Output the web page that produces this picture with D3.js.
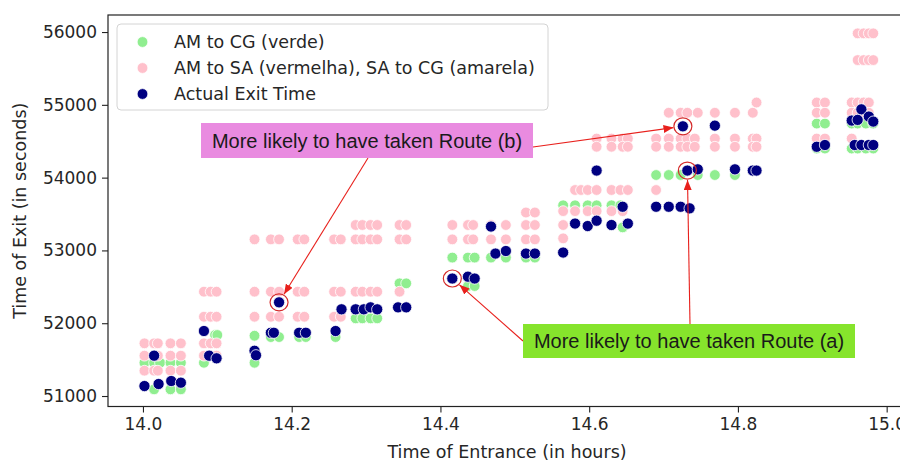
<!DOCTYPE html>
<html>
<head>
<meta charset="utf-8">
<title>Time of Exit vs Time of Entrance</title>
<script src="https://cdn.jsdelivr.net/npm/d3@7"></script>
<style>
  body{margin:0;background:#fff;}
  svg text{font-family:"DejaVu Sans",sans-serif;fill:#262626;}
  .note text{font-family:"Liberation Sans",Arial,sans-serif;fill:#1a1a1a;}
</style>
</head>
<body>
<svg id="chart" width="900" height="462"></svg>
<script>
// ticks
var xTicks = [14.0, 14.2, 14.4, 14.6, 14.8, 15.0];
var yTicks = [51000, 52000, 53000, 54000, 55000, 56000];

// [entrance (h), exit (s)]
var greenPts = [
  [14.002,51457],[14.015,51457],[14.023,51457],[14.037,51457],[14.051,51457],
  [14.015,51092],[14.037,51092],[14.051,51092],
  [14.082,51457],[14.097,51838],[14.100,51838],
  [14.150,51828],[14.150,51457],[14.172,51810],[14.183,51810],
  [14.210,51810],[14.219,51810],[14.259,51810],
  [14.286,52067],[14.295,52067],[14.306,52067],[14.315,52067],
  [14.345,52548],[14.354,52548],
  [14.416,52902],[14.437,52902],[14.446,52902],[14.468,52902],[14.488,52902],
  [14.437,52511],[14.446,52511],[14.515,52902],[14.527,52902],
  [14.565,53620],[14.581,53620],[14.598,53620],[14.610,53620],[14.630,53620],[14.642,53620],
  [14.645,53317],
  [14.690,54036],[14.707,54036],[14.723,54036],[14.746,54036],[14.769,54036],[14.796,54036],
  [14.906,54743],[14.917,54743],[14.953,54743],[14.961,54743],[14.972,54743],[14.982,54743],
  [14.906,54400],[14.917,54400],[14.953,54400],[14.961,54400],[14.972,54400],[14.982,54400]
];

var pinkPts = [
  [14.002,51724],[14.015,51724],[14.020,51724],[14.037,51724],[14.051,51724],
  [14.002,51554],[14.015,51554],[14.020,51554],[14.037,51554],[14.051,51554],
  [14.002,51348],[14.015,51348],[14.020,51348],[14.037,51348],[14.051,51348],
  [14.082,52433],[14.091,52433],[14.099,52433],
  [14.082,52089],[14.091,52089],[14.099,52089],
  [14.082,51724],[14.091,51724],[14.099,51724],
  [14.082,51554],[14.091,51554],[14.099,51554],
  [14.150,53152],[14.172,53152],[14.183,53152],[14.208,53152],[14.217,53152],[14.257,53152],[14.266,53152],
  [14.286,53152],[14.295,53152],[14.306,53152],[14.315,53152],[14.345,53152],[14.354,53152],
  [14.286,53349],[14.295,53349],[14.306,53349],[14.315,53349],[14.345,53349],[14.354,53349],
  [14.150,52433],[14.172,52433],[14.183,52433],[14.208,52433],[14.217,52433],[14.257,52433],[14.266,52433],
  [14.286,52433],[14.295,52433],[14.306,52433],[14.315,52433],[14.345,52433],
  [14.150,52089],[14.172,52089],[14.183,52089],[14.208,52089],[14.217,52089],[14.257,52089],[14.266,52089],
  [14.416,53349],[14.437,53349],[14.444,53349],[14.468,53349],[14.488,53349],[14.515,53349],[14.527,53349],[14.565,53349],
  [14.416,53152],[14.437,53152],[14.444,53152],[14.468,53152],[14.488,53152],[14.515,53152],[14.527,53152],[14.565,53166],
  [14.515,53521],[14.527,53521],
  [14.565,53540],[14.581,53540],[14.598,53540],[14.610,53540],[14.630,53540],[14.645,53540],
  [14.581,53830],[14.589,53830],[14.598,53830],[14.610,53830],[14.630,53830],[14.642,53830],[14.652,53830],[14.690,53830],
  [14.610,54537],[14.630,54537],[14.645,54537],[14.652,54537],[14.690,54537],[14.707,54537],[14.723,54537],
  [14.732,54537],[14.742,54537],[14.769,54537],[14.796,54537],[14.820,54537],[14.825,54537],
  [14.610,54424],[14.630,54424],[14.645,54424],[14.652,54424],[14.690,54424],[14.707,54424],[14.723,54424],
  [14.732,54424],[14.742,54424],[14.769,54424],[14.796,54424],[14.820,54424],[14.825,54424],
  [14.707,54891],[14.723,54891],[14.732,54891],[14.746,54891],[14.769,54891],[14.796,54891],[14.820,54891],
  [14.825,55032],
  [14.906,55032],[14.917,55032],[14.906,54891],[14.917,54891],[14.906,54537],[14.917,54537],
  [14.953,54537],
  [14.961,55982],[14.969,55982],[14.976,55982],[14.982,55982],
  [14.961,55615],[14.969,55615],[14.976,55615],[14.982,55615],
  [14.953,55032],[14.961,55032],[14.969,55032],[14.976,55032],
  [14.953,54891],[14.961,54891],[14.969,54891],[14.976,54891]
];

var actualPts = [
  [14.002,51137],[14.015,51554],[14.021,51165],[14.038,51206],[14.051,51183],
  [14.082,51893],[14.089,51554],[14.099,51518],
  [14.150,51622],[14.152,51560],[14.183,52287],[14.172,51869],[14.176,51869],
  [14.210,51869],[14.219,51869],[14.259,51893],
  [14.267,52191],[14.286,52191],[14.297,52191],[14.306,52218],[14.315,52191],
  [14.343,52218],[14.354,52218],
  [14.416,52614],[14.437,52639],[14.446,52614],
  [14.468,53328],[14.474,52957],[14.488,52992],[14.515,52957],[14.527,52957],[14.565,52971],
  [14.581,53369],[14.598,53335],[14.610,53408],[14.630,53349],[14.645,53600],[14.652,53369],
  [14.610,54097],
  [14.690,53600],[14.707,53600],[14.723,53600],[14.735,53578],
  [14.726,54705],[14.769,54714],
  [14.732,54097],[14.746,54114],[14.796,54114],[14.820,54097],[14.825,54097],
  [14.906,54424],[14.917,54448],
  [14.966,54938],[14.953,54784],[14.961,54793],[14.976,54839],[14.982,54770],
  [14.957,54448],[14.966,54448],[14.976,54448],[14.982,54448]
];

// circled points
var marked = [[14.183,52287],[14.416,52614],[14.726,54705],[14.732,54097]];

var legendLabels = ["AM to CG (verde)", "AM to SA (vermelha), SA to CG (amarela)", "Actual Exit Time"];
var legendColors = ["#90ee90", "#ffc0cb", "#000080"];

var svg = d3.select("#chart");
var plotL = 108, plotR = 906, plotT = 15, plotB = 406.5;

var x = d3.scaleLinear().domain([13.953, 15.026]).range([plotL, plotR]);
var y = d3.scaleLinear().domain([50856, 56234]).range([plotB, plotT]);

svg.append("clipPath").attr("id", "plotclip")
  .append("rect").attr("x", plotL).attr("y", plotT).attr("width", plotR - plotL).attr("height", plotB - plotT);

// axes
var xAxis = svg.append("g").attr("transform", "translate(0," + plotB + ")")
  .call(d3.axisBottom(x).tickValues(xTicks).tickFormat(d3.format(".1f")).tickSize(6).tickPadding(5));
var yAxis = svg.append("g").attr("transform", "translate(" + plotL + ",0)")
  .call(d3.axisLeft(y).tickValues(yTicks).tickFormat(d3.format("d")).tickSize(6).tickPadding(5));
[xAxis, yAxis].forEach(function(g){
  g.select(".domain").remove();
  g.selectAll("line").attr("stroke", "#222").attr("stroke-width", 1.1);
  g.selectAll("text").attr("font-size", 17).attr("fill", "#262626")
    .style("font-family", "'DejaVu Sans',sans-serif");
});

// frame
svg.append("rect").attr("x", plotL).attr("y", plotT).attr("width", plotR - plotL).attr("height", plotB - plotT)
  .attr("fill", "none").attr("stroke", "#222").attr("stroke-width", 1.2);

svg.append("text").attr("x", (plotL + plotR) / 2).attr("y", 458).attr("text-anchor", "middle")
  .attr("font-size", 17.5).text("Time of Entrance (in hours)");
svg.append("text").attr("transform", "translate(26," + ((plotT + plotB) / 2) + ") rotate(-90)")
  .attr("text-anchor", "middle").attr("font-size", 17.5).text("Time of Exit (in seconds)");

// points
var plot = svg.append("g").attr("clip-path", "url(#plotclip)");
function drawPts(data, color, r){
  plot.append("g").selectAll("circle").data(data).enter().append("circle")
    .attr("cx", function(d){ return x(d[0]); })
    .attr("cy", function(d){ return y(d[1]); })
    .attr("r", r)
    .attr("fill", color)
    .attr("stroke", "#fff").attr("stroke-width", 0.8);
}
drawPts(greenPts, legendColors[0], 5.4);
drawPts(pinkPts, legendColors[1], 5.4);
drawPts(actualPts, legendColors[2], 5.6);

// legend
var lg = svg.append("g");
lg.append("rect").attr("x", 117).attr("y", 24).attr("width", 431).attr("height", 86).attr("rx", 4)
  .attr("fill", "#fff").attr("fill-opacity", 0.8).attr("stroke", "#d4d4d4");
legendLabels.forEach(function(t, i){
  lg.append("circle").attr("cx", 142.5).attr("cy", 42 + i * 26).attr("r", 5.4)
    .attr("fill", legendColors[i]).attr("stroke", "#fff").attr("stroke-width", 0.8);
  lg.append("text").attr("x", 174).attr("y", 42 + i * 26).attr("dy", "0.36em")
    .attr("font-size", 17.5).text(t);
});

// annotations
svg.append("defs").append("marker").attr("id", "head")
  .attr("viewBox", "0 0 10 8").attr("refX", 10).attr("refY", 4)
  .attr("markerWidth", 10).attr("markerHeight", 8).attr("markerUnits", "userSpaceOnUse")
  .attr("orient", "auto")
  .append("path").attr("d", "M0,0L10,4L0,8z").attr("fill", "#e8201c");

var notes = [
  {text: "More likely to have taken Route (b)", fill: "#e98be0", box: [201, 123, 332, 35],
   arrows: [[368, 158, 0], [533, 147, 2]]},
  {text: "More likely to have taken Route (a)", fill: "#86e42c", box: [523, 324, 332, 34],
   arrows: [[690, 324, 3], [523, 341, 1]]}
];

var ring = 8.5;
var ann = svg.append("g").attr("class", "note");
ann.selectAll("ellipse").data(marked).enter().append("ellipse")
  .attr("cx", function(d){ return x(d[0]); })
  .attr("cy", function(d){ return y(d[1]); })
  .attr("rx", ring + 0.5).attr("ry", ring)
  .attr("fill", "none").attr("stroke", "#d42a2a").attr("stroke-width", 1.2);

notes.forEach(function(n){
  n.arrows.forEach(function(a){
    var cx = x(marked[a[2]][0]), cy = y(marked[a[2]][1]);
    var dx = cx - a[0], dy = cy - a[1], len = Math.sqrt(dx * dx + dy * dy);
    ann.append("line").attr("x1", a[0]).attr("y1", a[1])
      .attr("x2", cx - dx / len * (ring + 1)).attr("y2", cy - dy / len * (ring + 1))
      .attr("stroke", "#e8201c").attr("stroke-width", 1.1).attr("marker-end", "url(#head)");
  });
  ann.append("rect").attr("x", n.box[0]).attr("y", n.box[1]).attr("width", n.box[2]).attr("height", n.box[3])
    .attr("fill", n.fill);
  ann.append("text").attr("x", n.box[0] + n.box[2] / 2).attr("y", n.box[1] + n.box[3] / 2)
    .attr("dy", "0.35em").attr("text-anchor", "middle").attr("font-size", 20).text(n.text);
});
</script>
</body>
</html>
